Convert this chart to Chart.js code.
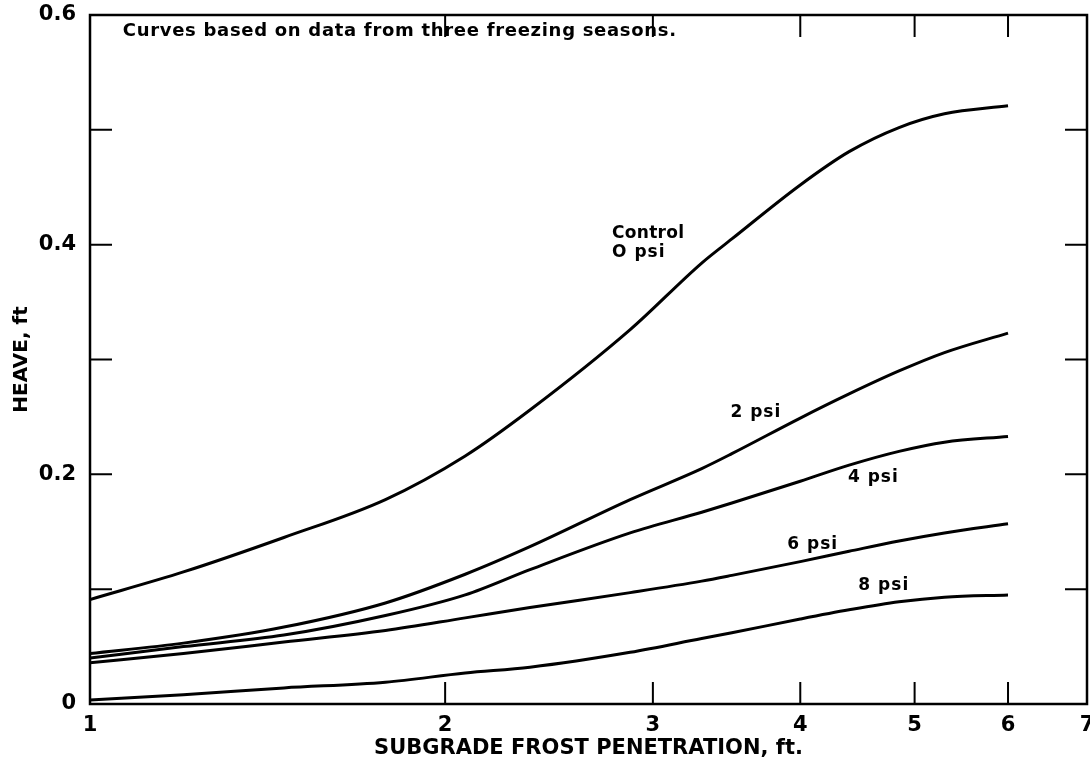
<!DOCTYPE html>
<html>
<head>
<meta charset="utf-8">
<script src="https://cdn.jsdelivr.net/npm/chart.js@4.4.1/dist/chart.umd.min.js"></script>
<style>
  html, body { margin: 0; padding: 0; background: #fff; }
  #wrap { width: 1090px; height: 763px; }
</style>
</head>
<body>
<div id="wrap"><canvas id="myChart"></canvas></div>
<script>
  // DATA BLOCK
  // frost penetration, ft (log axis)
  const depth = [1, 1.2, 1.46, 1.78, 2.08, 2.36, 2.87, 3.3, 3.5, 4.0, 4.4, 4.85, 5.3, 6.0];

  // heave, ft
  const heave0 = [0.091, 0.115, 0.145, 0.178, 0.216, 0.256, 0.326, 0.384, 0.405, 0.452, 0.481, 0.502, 0.514, 0.521];
  const heave2 = [0.044, 0.053, 0.067, 0.088, 0.113, 0.137, 0.178, 0.205, 0.218, 0.249, 0.270, 0.290, 0.306, 0.323];
  const heave4 = [0.040, 0.050, 0.060, 0.077, 0.095, 0.117, 0.149, 0.167, 0.175, 0.194, 0.208, 0.220, 0.228, 0.233];
  const heave6 = [0.036, 0.044, 0.054, 0.064, 0.075, 0.084, 0.097, 0.107, 0.112, 0.124, 0.133, 0.142, 0.149, 0.157];
  const heave8 = [0.0035, 0.008, 0.014, 0.019, 0.027, 0.032, 0.045, 0.057, 0.062, 0.074, 0.082, 0.089, 0.093, 0.095];

  const seriesNames = ['Control 0 psi', '2 psi', '4 psi', '6 psi', '8 psi'];

  const xTicks = [1, 2, 3, 4, 5, 6, 7];
  const yTickLabels = ['0', '', '0.2', '', '0.4', '', '0.6'];

  // text written on the plot (placed in data units)
  const notes = [
      { text: 'Curves based on data from three freezing seasons.', x: 1.066, y: 0.586, size: 18, spacing: 0.7 },
      { text: 'Control', x: 2.77, y: 0.410, size: 17, spacing: 0.3 },
      { text: 'O psi', x: 2.77, y: 0.393, size: 17, spacing: 1 },
      { text: '2 psi', x: 3.49, y: 0.254, size: 17, spacing: 1 },
      { text: '4 psi', x: 4.39, y: 0.197, size: 17, spacing: 1 },
      { text: '6 psi', x: 3.90, y: 0.139, size: 17, spacing: 1 },
      { text: '8 psi', x: 4.48, y: 0.103, size: 17, spacing: 1 }
  ];

  const toPoints = (ys) => depth.map((d, i) => ({ x: d, y: ys[i] }));

  Chart.defaults.font.family = "'DejaVu Sans', sans-serif";
  Chart.defaults.color = '#000';

  // inward ticks on all four sides, box frame, notes
  const framePlugin = {
      id: 'framePlugin',
      afterDraw(chart) {
          const ctx = chart.ctx;
          const a = chart.chartArea;
          const x = chart.scales.x;
          const y = chart.scales.y;
          ctx.save();
          ctx.strokeStyle = '#000';
          ctx.lineWidth = 2.5;
          ctx.strokeRect(a.left, a.top, a.right - a.left, a.bottom - a.top);

          ctx.lineWidth = 2;
          ctx.beginPath();
          y.ticks.forEach((t, i) => {
              if (i === 0 || i === y.ticks.length - 1) return;
              const py = y.getPixelForValue(t.value);
              ctx.moveTo(a.left, py); ctx.lineTo(a.left + 22, py);
              ctx.moveTo(a.right, py); ctx.lineTo(a.right - 22, py);
          });
          x.ticks.forEach((t, i) => {
              if (i === 0 || i === x.ticks.length - 1) return;
              const px = x.getPixelForValue(t.value);
              ctx.moveTo(px, a.bottom); ctx.lineTo(px, a.bottom - 22);
              ctx.moveTo(px, a.top); ctx.lineTo(px, a.top + 22);
          });
          ctx.stroke();

          ctx.fillStyle = '#000';
          ctx.textBaseline = 'middle';
          ctx.textAlign = 'left';
          notes.forEach(n => {
              ctx.font = 'bold ' + n.size + "px 'DejaVu Sans', sans-serif";
              ctx.letterSpacing = n.spacing + 'px';
              ctx.fillText(n.text, x.getPixelForValue(n.x), y.getPixelForValue(n.y));
          });
          ctx.restore();
      }
  };

  const data = {
      datasets: [heave0, heave2, heave4, heave6, heave8].map((ys, i) => ({
          label: seriesNames[i],
          data: toPoints(ys),
          borderColor: '#000',
          backgroundColor: '#000',
          borderWidth: 3,
          pointRadius: 0,
          cubicInterpolationMode: 'monotone',
          fill: false
      }))
  };

  const config = {
      type: 'line',
      data,
      options: {
          responsive: true,
          maintainAspectRatio: false,
          animation: false,
          layout: { padding: { top: 15, right: 3, left: 0, bottom: 0 } },
          plugins: {
              legend: { display: false },
              tooltip: { enabled: false }
          },
          scales: {
              x: {
                  type: 'logarithmic',
                  min: 1,
                  max: 7,
                  afterBuildTicks: (s) => { s.ticks = xTicks.map(v => ({ value: v })); },
                  afterFit: (s) => { s.height = 59; s.paddingLeft = 0; s.paddingRight = 0; },
                  grid: { display: false },
                  border: { display: false },
                  ticks: {
                      autoSkip: false,
                      maxRotation: 0,
                      padding: 1,
                      font: { size: 21, weight: 'bold' },
                      callback: (v) => String(v)
                  },
                  title: {
                      display: true,
                      text: 'SUBGRADE FROST PENETRATION, ft.',
                      font: { size: 21, weight: 'bold' },
                      padding: { top: 0, bottom: 2 }
                  }
              },
              y: {
                  min: 0,
                  max: 0.6,
                  afterBuildTicks: (s) => { s.ticks = yTickLabels.map((l, i) => ({ value: i / 10 })); },
                  afterFit: (s) => { s.width = 90; s.paddingTop = 0; s.paddingBottom = 0; },
                  grid: { display: false },
                  border: { display: false },
                  ticks: {
                      autoSkip: false,
                      padding: 6,
                      font: { size: 21, weight: 'bold' },
                      callback: (v, i) => yTickLabels[i]
                  },
                  title: {
                      display: true,
                      text: 'HEAVE, ft',
                      font: { size: 20, weight: 'bold' },
                      padding: { top: 10, bottom: 0 }
                  }
              }
          }
      },
      plugins: [framePlugin]
  };

  // RENDER BLOCK
  var myChart = new Chart(
      document.getElementById('myChart'),
      config
  );
</script>
</body>
</html>
